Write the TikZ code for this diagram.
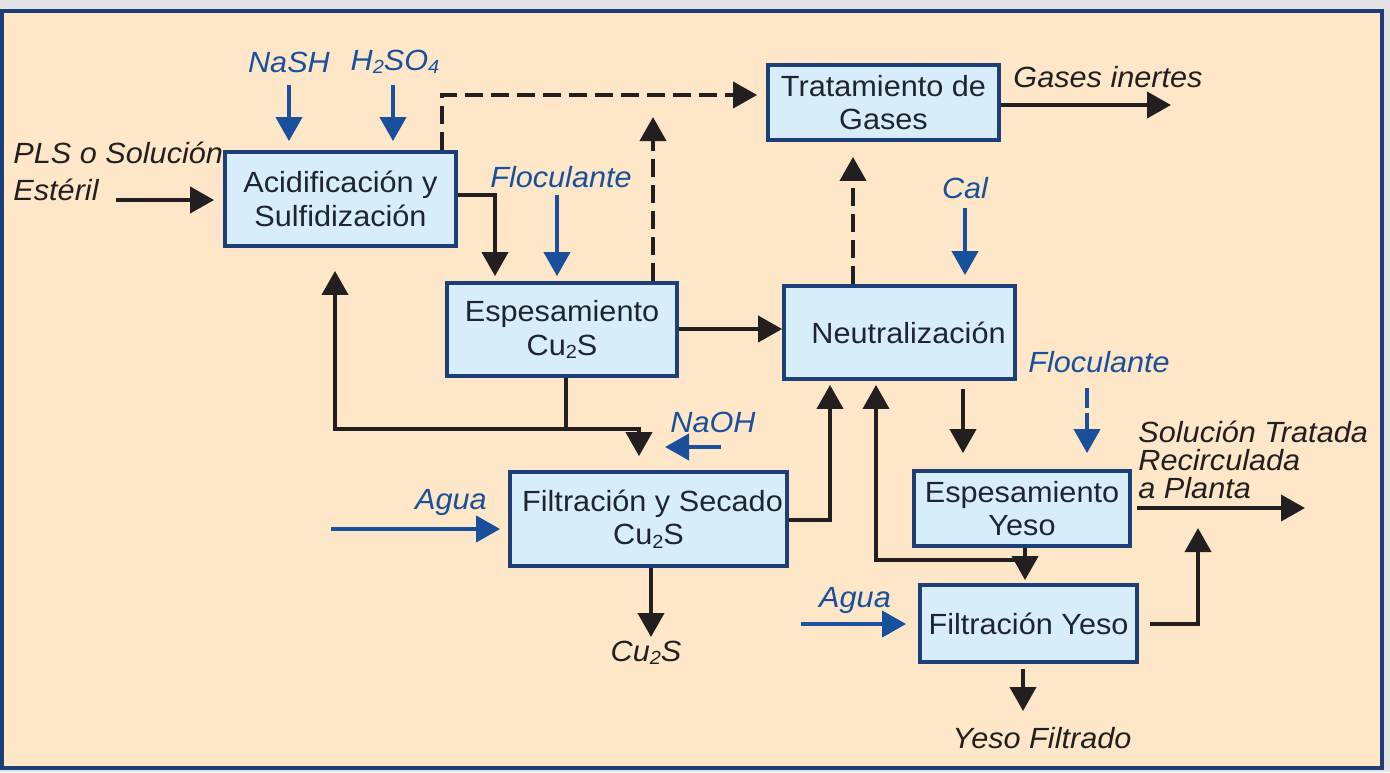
\documentclass[tikz,border=0pt]{standalone}
\usepackage{fontspec}
\setmainfont{Liberation Sans}[FakeStretch=1.05]
\usetikzlibrary{arrows.meta}
\definecolor{peach}{HTML}{FDE7C8}
\definecolor{boxfill}{HTML}{D8EDFA}
\definecolor{boxline}{HTML}{1C3F78}
\definecolor{flowblue}{HTML}{1A4F9C}
\definecolor{flowblack}{HTML}{231F20}
\definecolor{boxtext}{HTML}{1E2530}
\definecolor{framegray}{HTML}{E4E4E4}
\newcommand\sbs[1]{\raisebox{-0.12em}{\fontsize{9.5}{9.5}\selectfont #1}}
\begin{document}
\begin{tikzpicture}[x=0.5pt,y=-0.5pt,
  procbox/.style={draw=boxline, fill=boxfill, line width=1.9pt, inner sep=0pt, align=center,
    font=\fontsize{14.6}{16.8}\selectfont, text=boxtext},
  arr/.style={draw=flowblack, line width=2pt, -{Triangle[length=12pt,width=13pt]}},
  barr/.style={draw=flowblue, line width=2pt, -{Triangle[length=12pt,width=13pt]}},
  darr/.style={arr, dash pattern=on 9pt off 4pt},
  lbl/.style={font=\fontsize{14.6}{18.5}\selectfont\itshape, text=flowblack, inner sep=0pt},
  blbl/.style={font=\fontsize{14.6}{18.5}\selectfont\itshape, text=flowblue, inner sep=0pt}]
\useasboundingbox (0,0) rectangle (1390,772);
\fill[framegray] (0,0) rectangle (1390,772);
\draw[fill=peach, draw=boxline, line width=1.6pt] (2,11) rectangle (1382,768);

% boxes
\node[procbox, minimum width=115.5pt, minimum height=47pt] (acid) at (340.5,199) {Acidificación y\\Sulfidización};
\node[procbox, minimum width=115.5pt, minimum height=37.5pt] (trat) at (883.5,102.5) {Tratamiento de\\Gases};
\node[procbox, minimum width=115pt, minimum height=46.5pt] (espcu) at (562,329.5) {Espesamiento\\Cu\sbs{2}S};
\node[procbox, minimum width=115.5pt, minimum height=46.5pt] (neut) at (899.5,332.5) {\hspace*{9pt}Neutralización};
\node[procbox, minimum width=138.5pt, minimum height=47pt] (filsec) at (648.5,519) {\hspace*{4pt}Filtración y Secado\\Cu\sbs{2}S};
\node[procbox, minimum width=108pt, minimum height=37.5pt] (espye) at (1022,508.5) {Espesamiento\\Yeso};
\node[procbox, minimum width=108.5pt, minimum height=38.5pt] (filye) at (1028.5,623.5) {Filtración Yeso};

% labels
\node[blbl] (lnash) at (289,62) {NaSH};
\node[blbl] (lh2so4) at (395,62) {H\sbs{2}SO\sbs{4}};
\node[lbl, anchor=west, align=left] (lpls) at (13,171) {PLS o Solución\\Estéril};
\node[blbl] (lfloc1) at (561,177) {Floculante};
\node[lbl] (lgases) at (1108,77) {Gases inertes};
\node[blbl] (lcal) at (965,188) {Cal};
\node[blbl] (lfloc2) at (1099,362) {Floculante};
\node[lbl, anchor=west, align=left, font=\fontsize{14.6}{14}\selectfont\itshape] (lsol) at (1138,460) {Solución Tratada\\Recirculada\\a Planta};
\node[blbl] (lnaoh) at (713,422) {NaOH};
\node[blbl] (lagua1) at (451,502) {Agua};
\node[lbl] (lcu2s) at (646,653) {Cu\sbs{2}S};
\node[blbl] (lagua2) at (855,600) {Agua};
\node[lbl] (lyeso) at (1042,738) {Yeso Filtrado};

% free-end coordinates
\coordinate (plsin) at (116,200);
\coordinate (nashs) at (289,85);
\coordinate (h2s) at (393,85);
\coordinate (floc1s) at (557,195);
\coordinate (gasout) at (1171,105);
\coordinate (cals) at (965,208);
\coordinate (floc2s) at (1087,388);
\coordinate (naohs) at (721,447);
\coordinate (naohe) at (665,447);
\coordinate (agua1s) at (331,529);
\coordinate (cu2sout) at (651,637);
\coordinate (agua2s) at (801,624);
\coordinate (solout) at (1305,508);
\coordinate (filyeup) at (1198,528);
\coordinate (yesoout) at (1023,711);
\coordinate (dup1) at (653,117);
\coordinate (j1) at (566,429);
\coordinate (j2) at (1025,560);

% connectors
\draw[arr, shorten >=4.5pt] (plsin) -- (acid.west |- plsin);
\draw[barr, shorten >=4.5pt] (nashs) -- (nashs |- acid.north);
\draw[barr, shorten >=4.5pt] (h2s) -- (h2s |- acid.north);
\draw[arr, shorten >=2.5pt] (acid.east |- 0,195) -- (495,195) -- (495,0 |- espcu.north);
\draw[barr, shorten >=2.5pt] (floc1s) -- (floc1s |- espcu.north);
\draw[darr, shorten >=4.5pt] (442,0 |- acid.north) -- (442,95) -- (trat.west |- 0,95);
\draw[darr] (dup1 |- espcu.north) -- (dup1);
\draw[arr] (espcu.east |- 0,329) -- (neut.west |- 0,329);
\draw[arr] (trat.east |- gasout) -- (gasout);
\draw[darr, shorten >=7.5pt] (853,0 |- neut.north) -- (853,0 |- trat.south);
\draw[barr, shorten >=4.5pt] (cals) -- (cals |- neut.north);
\draw[arr, shorten >=11.5pt] (j1 |- espcu.south) -- (j1) -- (335,429) -- (335,0 |- acid.south);
\draw[arr, shorten >=7pt] (j1) -- (639,429) -- (639,0 |- filsec.north);
\draw[barr] (naohs) -- (naohe);
\draw[barr, shorten >=4pt] (agua1s) -- (filsec.west |- agua1s);
\draw[arr] (cu2sout |- filsec.south) -- (cu2sout);
\draw[arr, shorten >=2pt] (filsec.east |- 0,520) -- (830,520) -- (830,0 |- neut.south);
\draw[arr, shorten >=1.5pt] (j2 |- espye.south) -- (j2 |- filye.north);
\draw[arr, shorten >=2pt] (j2) -- (876,560) -- (876,0 |- neut.south);
\draw[arr, shorten <=4pt, shorten >=8pt] (963,0 |- neut.south) -- (963,0 |- espye.north);
\draw[barr, dash pattern=on 10pt off 2.5pt on 40pt off 0pt, shorten >=8pt] (floc2s) -- (floc2s |- espye.north);
\draw[arr, shorten <=2.5pt] (espye.east |- solout) -- (solout);
\draw[arr, shorten <=5.5pt] (filye.east |- agua2s) -- (1198,624) -- (filyeup);
\draw[barr, shorten >=6pt] (agua2s) -- (filye.west |- agua2s);
\draw[arr, shorten <=2.5pt] (yesoout |- filye.south) -- (yesoout);
\end{tikzpicture}
\end{document}
